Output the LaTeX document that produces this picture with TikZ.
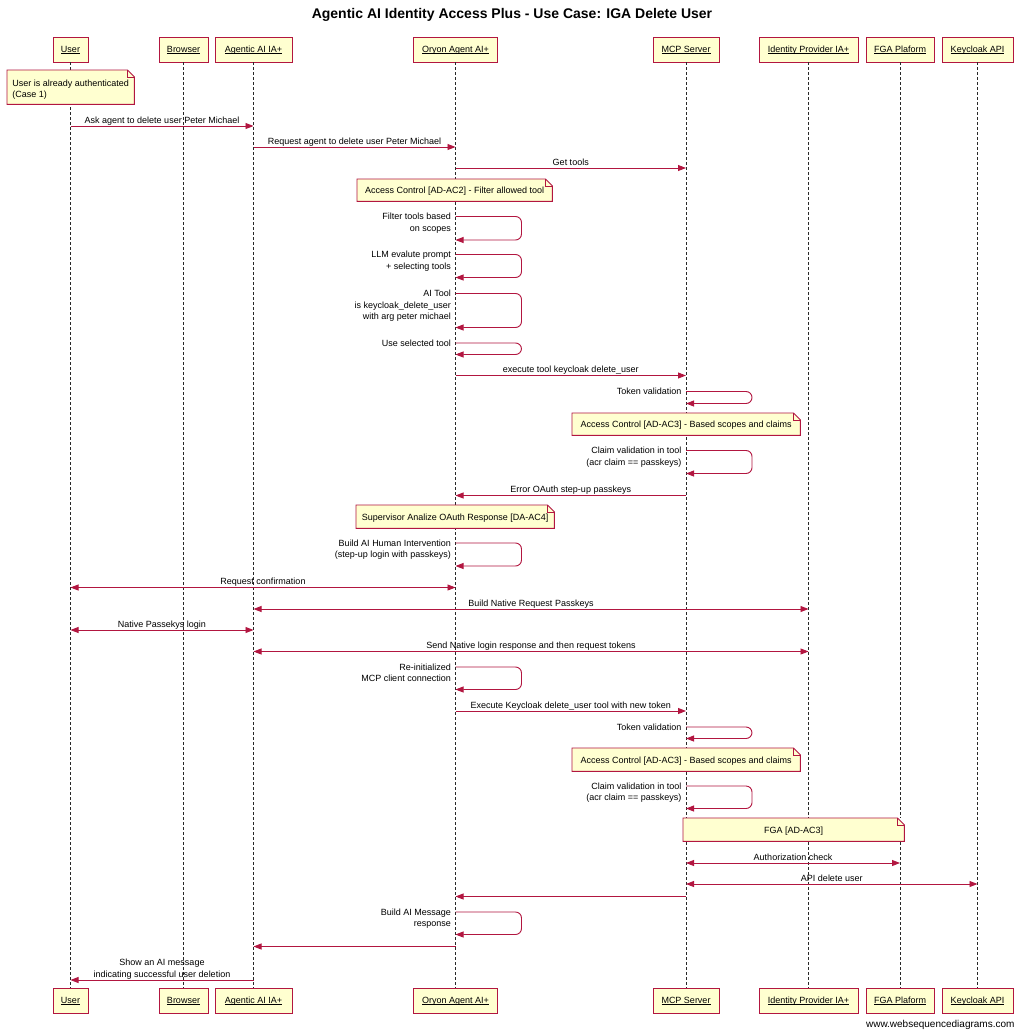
\documentclass[tikz,border=0pt]{standalone}
\usepackage{fontspec}
\setmainfont{Liberation Sans}
\usetikzlibrary{arrows.meta}
\definecolor{wsdred}{RGB}{178,22,64}
\definecolor{wsdfill}{RGB}{255,255,208}
\definecolor{lifegray}{RGB}{40,40,40}
\def\xUs{70.5}
\def\xBr{184}
\def\xAg{253.5}
\def\xOr{455.5}
\def\xMc{686}
\def\xId{808.5}
\def\xFg{900}
\def\xKc{977.5}
\newlength\ulwidth
\newcommand{\ulname}[1]{\settowidth{\ulwidth}{#1}\rlap{\rule[-1.4pt]{\ulwidth}{0.55pt}}#1}
\tikzset{
  every node/.style={font=\fontsize{9}{11.3}\selectfont},
  party/.style={draw=wsdred, fill=wsdfill, line width=0.9pt, minimum height=25, inner sep=0, text height=6.5pt, text depth=1.5pt},
  lifeline/.style={draw=lifegray, dash pattern=on 3pt off 2pt, line width=0.85pt},
  msg/.style={draw=wsdred, line width=0.9pt, -{Triangle[length=8pt,width=6pt]}},
  dmsg/.style={msg, {Triangle[length=8pt,width=6pt]}-{Triangle[length=8pt,width=6pt]}},
  msglabel/.style={anchor=south, inner sep=0, align=center, yshift=-1pt},
  selflabel/.style={anchor=north east, inner sep=0, align=right},
  notebody/.style={fill=wsdfill, inner sep=0, anchor=north west},
  noteline/.style={draw=wsdred, line width=0.9pt},
}
\newcommand{\Msg}[6]{%
  \coordinate (#1a) at (#3,#5);
  \coordinate (#1b) at (#4,#5);
  \draw[#2] (#1a) -- (#1b) node[msglabel, midway] (#1l) {#6\strut};
}
\newcommand{\MsgN}[5]{%
  \coordinate (#1a) at (#3,#5);
  \coordinate (#1b) at (#4,#5);
  \draw[#2] (#1a) -- (#1b);
}
\newcommand{\SelfMsg}[5]{%
  \coordinate (#1a) at (#2,#3);
  \coordinate (#1b) at (#2,#4);
  \draw[msg, rounded corners=6pt] (#1a) -- ++(66,0) |- (#1b);
  \node[selflabel] (#1l) at ([xshift=-4.5pt, yshift=4.7pt]#1a) {\strut #5};
}
\newcommand{\Note}[7][text height=8.2pt, text depth=1pt]{%
  \node[notebody, minimum width={#4-#2}, minimum height={#5-#3}, #1] (#6) at (#2,#3) {#7};
  \fill[white] (#6.north east) -- ([xshift=-7pt]#6.north east) -- ([yshift=-7pt]#6.north east) -- cycle;
  \draw[noteline] (#6.north west) -- ([xshift=-7pt]#6.north east) -- ([yshift=-7pt]#6.north east) -- (#6.south east) -- (#6.south west) -- cycle;
  \draw[noteline, line width=0.6pt] ([xshift=-7pt]#6.north east) |- ([yshift=-7pt]#6.north east);
}
\begin{document}
\begin{tikzpicture}[x=1pt, y=-1pt]
\useasboundingbox[fill=white] (0,0) rectangle (1024,1036);
\node[font=\fontsize{14}{16}\selectfont\bfseries] (title) at (512,15) {Agentic AI Identity Access Plus - Use Case: IGA Delete User};
% participants top
\node[party, minimum width=35] (userT) at (\xUs,49.5) {\ulname{User}};
\node[party, minimum width=49] (browT) at (183.5,49.5) {\ulname{Browser}};
\node[party, minimum width=77] (agenT) at (\xAg,49.5) {\ulname{Agentic AI IA+}};
\node[party, minimum width=84] (oryT) at (\xOr,49.5) {\ulname{Oryon Agent AI+}};
\node[party, minimum width=66] (mcpT) at (\xMc,49.5) {\ulname{MCP Server}};
\node[party, minimum width=99] (idpT) at (\xId,49.5) {\ulname{Identity Provider IA+}};
\node[party, minimum width=68] (fgaT) at (\xFg,49.5) {\ulname{FGA Plaform}};
\node[party, minimum width=71] (kcT) at (\xKc,49.5) {\ulname{Keycloak API}};
% participants bottom
\node[party, minimum width=35] (userB) at (\xUs,1000.5) {\ulname{User}};
\node[party, minimum width=49] (browB) at (183.5,1000.5) {\ulname{Browser}};
\node[party, minimum width=77] (agenB) at (\xAg,1000.5) {\ulname{Agentic AI IA+}};
\node[party, minimum width=84] (oryB) at (\xOr,1000.5) {\ulname{Oryon Agent AI+}};
\node[party, minimum width=66] (mcpB) at (\xMc,1000.5) {\ulname{MCP Server}};
\node[party, minimum width=99] (idpB) at (\xId,1000.5) {\ulname{Identity Provider IA+}};
\node[party, minimum width=68] (fgaB) at (\xFg,1000.5) {\ulname{FGA Plaform}};
\node[party, minimum width=71] (kcB) at (\xKc,1000.5) {\ulname{Keycloak API}};
% lifelines
\draw[lifeline] (userT.south) -- (userB.north);
\draw[lifeline] (browT.south) -- (browB.north);
\draw[lifeline] (agenT.south) -- (agenB.north);
\draw[lifeline] (oryT.south) -- (oryB.north);
\draw[lifeline] (mcpT.south) -- (mcpB.north);
\draw[lifeline] (idpT.south) -- (idpB.north);
\draw[lifeline] (fgaT.south) -- (fgaB.north);
\draw[lifeline] (kcT.south) -- (kcB.north);
% sequence
\Note[text height=15.75pt, text depth=6.25pt]{7}{70}{134}{104}{n1}{\begin{tabular}{@{}l@{}}User is already authenticated\\(Case 1)\end{tabular}}
\Msg{m1}{msg}{\xUs}{\xAg}{126}{Ask agent to delete user Peter Michael}
\Msg{m2}{msg}{\xAg}{\xOr}{147}{Request agent to delete user Peter Michael}
\Msg{m3}{msg}{\xOr}{\xMc}{168}{Get tools}
\Note{357}{179}{552}{201}{n2}{Access Control [AD-AC2] - Filter allowed tool}
\SelfMsg{s1}{\xOr}{216.5}{240}{Filter tools based\\on scopes}
\SelfMsg{s2}{\xOr}{254.5}{277.5}{LLM evalute prompt\\+ selecting tools}
\SelfMsg{s3}{\xOr}{293.5}{327.5}{AI Tool\\is keycloak\_delete\_user\\with arg peter michael}
\SelfMsg{s4}{\xOr}{343}{354.5}{Use selected tool}
\Msg{m4}{msg}{\xOr}{\xMc}{375.5}{execute tool keycloak delete\_user}
\SelfMsg{s5}{\xMc}{391.5}{403.5}{Token validation}
\Note{572}{413}{800}{435}{n3}{Access Control [AD-AC3] - Based scopes and claims}
\SelfMsg{s6}{\xMc}{450.5}{473.5}{Claim validation in tool\\(acr claim == passkeys)}
\Msg{m5}{msg}{\xMc}{\xOr}{495.5}{Error OAuth step-up passkeys}
\Note{356}{505}{554}{528}{n4}{Supervisor Analize OAuth Response [DA-AC4]}
\SelfMsg{s7}{\xOr}{543}{566}{Build AI Human Intervention\\(step-up login with passkeys)}
\Msg{m6}{dmsg}{\xUs}{\xOr}{587.5}{Request confirmation}
\Msg{m7}{dmsg}{\xAg}{\xId}{609}{Build Native Request Passkeys}
\Msg{m8}{dmsg}{\xUs}{\xAg}{630}{Native Passekys login}
\Msg{m9}{dmsg}{\xAg}{\xId}{651.5}{Send Native login response and then request tokens}
\SelfMsg{s8}{\xOr}{667}{689.5}{Re-initialized\\MCP client connection}
\Msg{m10}{msg}{\xOr}{\xMc}{711}{Execute Keycloak delete\_user tool with new token}
\SelfMsg{s9}{\xMc}{727}{738.5}{Token validation}
\Note{572}{748}{800}{771}{n5}{Access Control [AD-AC3] - Based scopes and claims}
\SelfMsg{s10}{\xMc}{786}{808.5}{Claim validation in tool\\(acr claim == passkeys)}
\Note{683}{818}{904}{841}{n6}{FGA [AD-AC3]}
\Msg{m11}{dmsg}{\xMc}{\xFg}{863}{Authorization check}
\Msg{m12}{dmsg}{\xMc}{\xKc}{884}{API delete user}
\MsgN{m13}{msg}{\xMc}{\xOr}{896.5}
\SelfMsg{s11}{\xOr}{912}{934.5}{Build AI Message\\response}
\MsgN{m14}{msg}{\xOr}{\xAg}{946.5}
\Msg{m15}{msg}{\xAg}{\xUs}{980}{Show an AI message\\indicating successful user deletion}
\node[font=\fontsize{10}{12}\selectfont, anchor=east] (footer) at (1018,1025) {www.websequencediagrams.com};
\end{tikzpicture}
\end{document}
